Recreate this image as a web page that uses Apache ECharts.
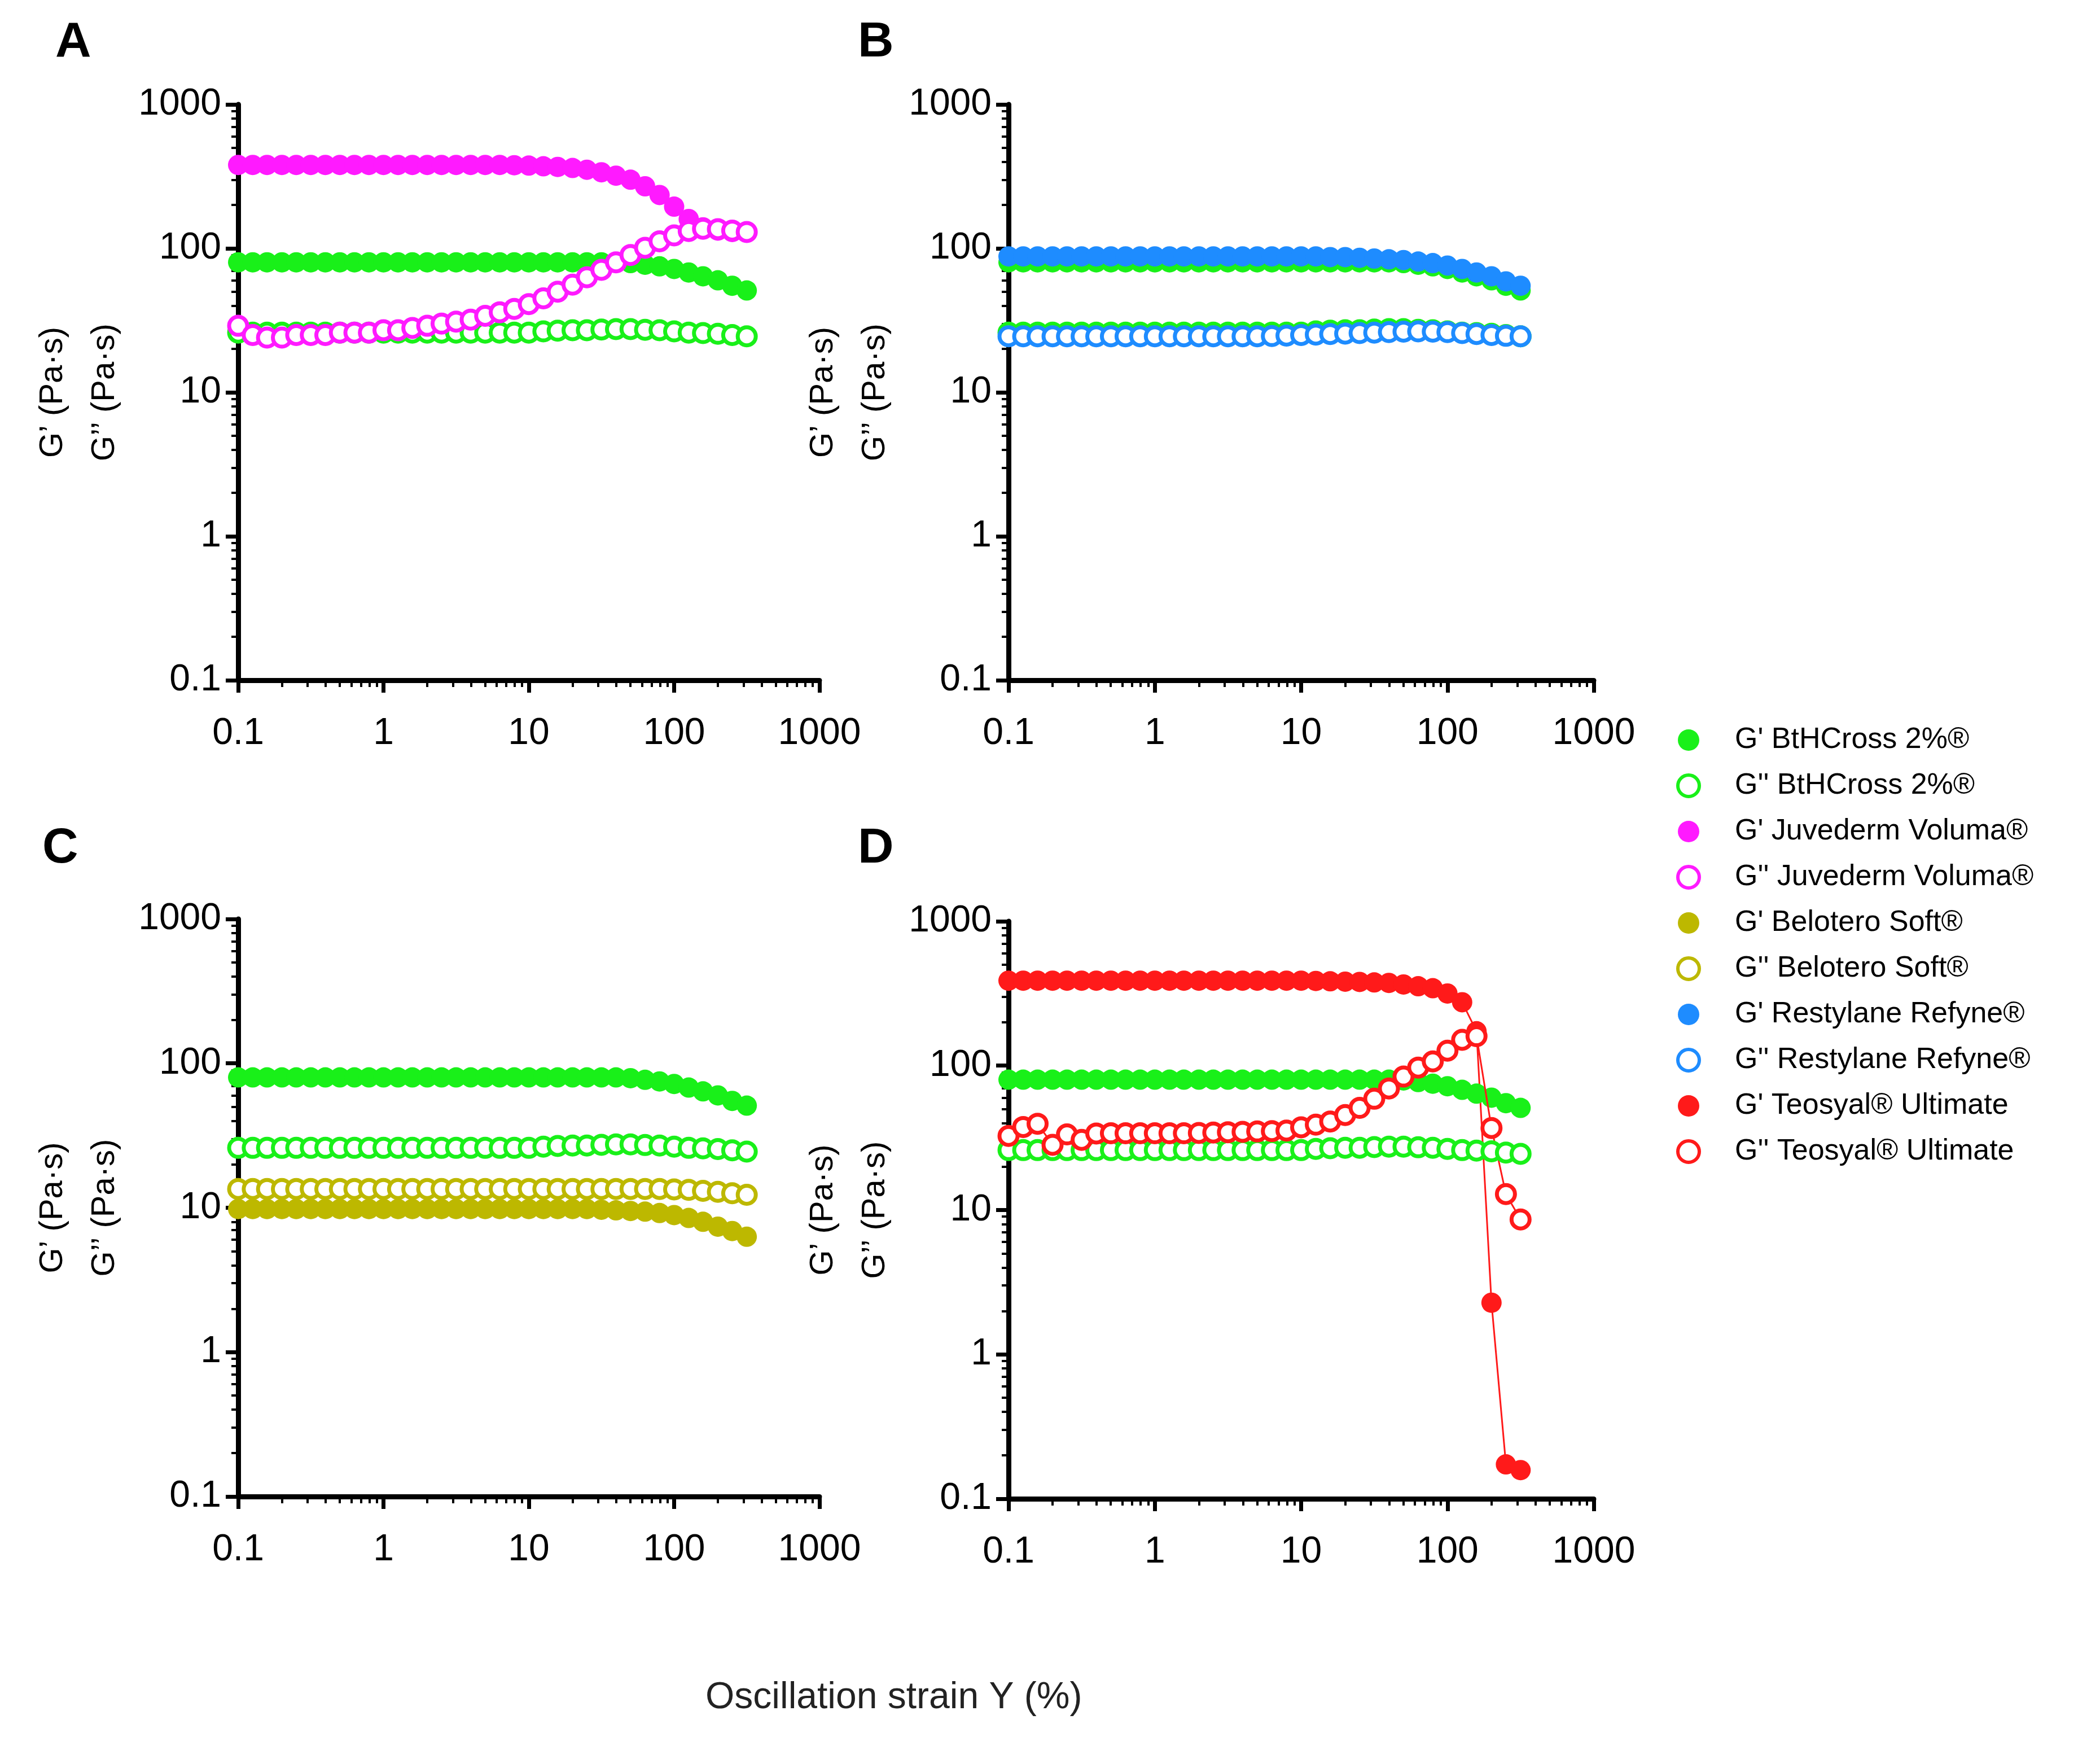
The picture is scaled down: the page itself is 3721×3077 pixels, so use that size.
<!DOCTYPE html>
<html><head><meta charset="utf-8">
<script src="https://cdn.jsdelivr.net/npm/echarts@6/dist/echarts.min.js"></script>
<style>html,body{margin:0;padding:0;background:#fff}#c{width:3721px;height:3077px}</style>
</head><body><div id="c"></div>
<script>
const strain = [0.1,0.126,0.158,0.2,0.251,0.316,0.398,0.501,0.631,0.794,1,1.26,1.58,2,2.51,3.16,3.98,5.01,6.31,7.94,10,12.6,15.8,20,25.1,31.6,39.8,50.1,63.1,79.4,100,126,158,200,251,316];
const btGp  = [80,80,80,80,80,80,80,80,80,80,80,80,80,80,80,80,80,80,80,80,80,80,80,80,80,80,80,79,77,75,72,68,64,60,55,51];
const btGpp = [26,26,26,26,26,26,26,26,26,26,26,26,26,26,26,26,26,26,26,26,26,26.5,26.8,27,27,27.3,27.5,27.5,27.2,27,26.5,26,25.8,25.5,25,24.5];
const juvGp = [380,380,380,380,380,380,380,380,380,380,380,380,380,380,380,380,380,380,380,378,376,372,368,362,352,338,320,300,270,235,195,160,140,133,130,130];
const juvGpp= [29,25,24,24,25,25,25,26,26,26,27,27,28,29,30,31,32,34,36,38,41,45,50,56,63,71,80,90,101,112,123,132,137,136,133,130];
const belGp = [9.8,9.8,9.8,9.8,9.8,9.8,9.8,9.8,9.8,9.8,9.8,9.8,9.8,9.8,9.8,9.8,9.8,9.8,9.8,9.8,9.8,9.8,9.8,9.8,9.8,9.7,9.6,9.5,9.4,9.2,8.9,8.5,8.0,7.4,6.9,6.3];
const belGpp= [13.5,13.5,13.5,13.5,13.5,13.5,13.5,13.5,13.5,13.5,13.5,13.5,13.5,13.5,13.5,13.5,13.5,13.5,13.5,13.5,13.5,13.5,13.5,13.5,13.5,13.5,13.5,13.5,13.5,13.5,13.4,13.3,13.1,12.9,12.6,12.3];
const resGp = [88,88,88,88,88,88,88,88,88,88,88,88,88,88,88,88,88,88,88,88,88,88,87,87,86,85,84,83,81,79,76,72,68,64,59,55];
const resGpp= [24.5,24.5,24.5,24.5,24.5,24.5,24.5,24.5,24.5,24.5,24.5,24.5,24.5,24.5,24.5,24.5,24.5,24.5,24.6,24.8,25,25.2,25.4,25.6,25.8,26,26.2,26.4,26.5,26.4,26.2,25.8,25.4,25,24.7,24.5];
const teoGp = [388,388,388,388,388,388,388,388,388,388,388,388,388,388,388,388,388,388,388,388,388,386,384,382,380,377,374,365,355,344,316,275,173,2.28,0.173,0.158];
const teoGpp= [32.6,37.6,39.6,28.3,33.4,30.6,33.9,34,34,34,34,34,34,34.2,34.4,34.6,34.8,35,35.2,35.5,37.4,39,41,45.5,51,59,69.5,84,97,107,127,151,160,37,12.9,8.6];
const names = ["G' BtHCross 2%®","G'' BtHCross 2%®","G' Juvederm Voluma®","G'' Juvederm Voluma®","G' Belotero Soft®","G'' Belotero Soft®","G' Restylane Refyne®","G'' Restylane Refyne®","G' Teosyal® Ultimate","G'' Teosyal® Ultimate"];
const colors = ['#19f019','#19f019','#ff1aff','#ff1aff','#bdb800','#bdb800','#1e8cff','#1e8cff','#ff1a1a','#ff1a1a'];

const chart = echarts.init(document.getElementById('c'));
const grids = [
  {left:422, top:185, width:1030, height:1020},
  {left:1787, top:185, width:1037, height:1020},
  {left:422, top:1628, width:1030, height:1023},
  {left:1787, top:1632, width:1037, height:1023}
];
const F = 'Arial, "Liberation Sans", sans-serif';
const fmt = v => String(v);
function xa(i){return {type:'log',gridIndex:i,min:0.1,max:1000,logBase:10,
  axisLine:{lineStyle:{color:'#000',width:9}},axisTick:{length:22,lineStyle:{width:7,color:'#000'}},
  minorTick:{show:true,splitNumber:9,length:12,lineStyle:{width:4,color:'#000'}},
  splitLine:{show:false},axisLabel:{fontSize:66,color:'#000',margin:62,fontFamily:F,formatter:fmt}};}
function ya(i){return {type:'log',gridIndex:i,min:0.1,max:1000,logBase:10,
  name:"G’ (Pa·s)\nG’’ (Pa·s)",nameLocation:'middle',nameGap:190,nameRotate:90,
  nameTextStyle:{fontSize:58,color:'#000',fontFamily:F,lineHeight:92},
  axisLine:{show:true,lineStyle:{color:'#000',width:9}},axisTick:{length:22,lineStyle:{width:7,color:'#000'}},
  minorTick:{show:true,splitNumber:9,length:12,lineStyle:{width:4,color:'#000'}},
  splitLine:{show:false},axisLabel:{fontSize:66,color:'#000',margin:30,fontFamily:F,formatter:fmt}};}
function ser(k,arr,gi){
  const hollow = k%2===1;
  return {name:names[k],type:'line',xAxisIndex:gi,yAxisIndex:gi,
    data:strain.map((x,i)=>[x,arr[i]]),symbol:'circle',symbolSize:hollow?32:36,showAllSymbol:true,
    itemStyle:{color:hollow?'#fff':colors[k],borderColor:colors[k],borderWidth:hollow?7:0},
    lineStyle:{color:colors[k],width:3},z:hollow?3:2,animation:false};
}
const series = [
  ser(0,btGp,0),ser(1,btGpp,0),ser(2,juvGp,0),ser(3,juvGpp,0),
  ser(0,btGp,1),ser(1,btGpp,1),ser(6,resGp,1),ser(7,resGpp,1),
  ser(0,btGp,2),ser(1,btGpp,2),ser(4,belGp,2),ser(5,belGpp,2),
  ser(0,btGp,3),ser(1,btGpp,3),ser(8,teoGp,3),ser(9,teoGpp,3)
];
const legendData = names.map((n,k)=>({name:n,itemStyle:{color:k%2?'#fff':colors[k],borderColor:colors[k],borderWidth:k%2?6:0}}));
chart.setOption({
  backgroundColor:'#fff', animation:false,
  grid:grids, xAxis:[0,1,2,3].map(xa), yAxis:[0,1,2,3].map(ya), series,
  legend:{data:legendData,orient:'vertical',left:2965,top:1280,itemWidth:38,itemHeight:38,itemGap:29,icon:'circle',
    textStyle:{fontSize:52,color:'#000',fontFamily:F,padding:[0,0,0,58]}},
  graphic:[
    {type:'text',left:98,top:32,style:{text:'A',font:'bold 88px Arial',fill:'#000'}},
    {type:'text',left:1520,top:32,style:{text:'B',font:'bold 88px Arial',fill:'#000'}},
    {type:'text',left:75,top:1460,style:{text:'C',font:'bold 88px Arial',fill:'#000'}},
    {type:'text',left:1520,top:1460,style:{text:'D',font:'bold 88px Arial',fill:'#000'}},
    {type:'text',left:1250,top:2975,style:{text:'Oscillation strain Y (%)',font:'66px Arial',fill:'#222'}}
  ]
});
</script></body></html>
